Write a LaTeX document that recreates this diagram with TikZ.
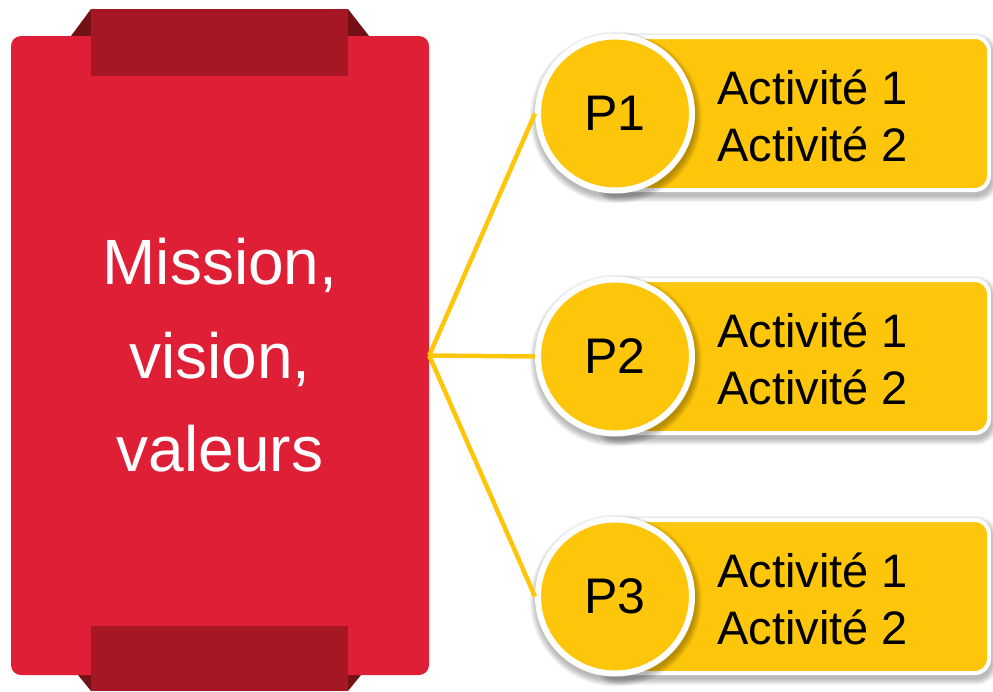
\documentclass[tikz,border=0pt]{standalone}
\usepackage{fontspec}
\setmainfont{Liberation Sans}
\definecolor{mred}{HTML}{DF1F35}
\definecolor{mband}{HTML}{A61725}
\definecolor{mdark}{HTML}{741117}
\definecolor{myel}{HTML}{FEC60B}
\begin{document}
\begin{tikzpicture}[x=1pt,y=-1pt,
  redbox/.style={rectangle, rounded corners=10pt, fill=mred, minimum width=418pt, minimum height=639pt, inner sep=0pt, text=white, align=center, font=\fontsize{64}{93.5}\selectfont},
  bandshape/.style={fill=mband},
  foldshape/.style={fill=mdark},
  softshade/.style={fill=black, opacity=0.045},
  bar/.style={rectangle, rounded corners=14pt, fill=myel, draw=white, line width=4pt, minimum width=389pt, minimum height=153pt, inner sep=0pt},
  pcirc/.style={circle, fill=myel, draw=white, line width=6pt, minimum size=154pt, inner sep=0pt, font=\fontsize{50}{57}\selectfont},
  act/.style={anchor=base west, inner sep=0pt, font=\fontsize{47}{57}\selectfont},
  link/.style={draw=myel, line width=4.5pt}
]
\useasboundingbox (0,0) rectangle (993,691);
% folds behind the box
\fill[foldshape] (71,36) -- (91,9) -- (91,36) -- cycle;
\fill[foldshape] (348,9) -- (369,36) -- (348,36) -- cycle;
\fill[foldshape] (78,675) -- (91,675) -- (91,691) -- cycle;
\fill[foldshape] (348,675) -- (361,675) -- (348,691) -- cycle;
% main box
\node[redbox] (mission) at (220,355.5) {Mission,\\vision,\\valeurs};
% bands
\fill[bandshape] (91,9) rectangle (348,76);
\fill[bandshape] (91,626) rectangle (348,691);
% rows
\foreach \i/\y in {1/113.5,2/356.5,3/596.5}{
  \foreach \k in {0,1,...,6}{
    \fill[softshade, rounded corners=16pt+\k pt] (600-\k,\y-77.5-\k+3) rectangle (992+\k,\y+78.5+\k+4);
  }
  \node[bar] (b\i) at (794.5,\y) {};
  \foreach \k in {0,1,...,6}{
    \fill[softshade] (616,\y+4) circle (80+\k);
  }
  \node[pcirc] (p\i) at (615,\y) {P\i};
  \node[act] (a\i x) at (717,\y-9.5) {Activité 1};
  \node[act] (a\i y) at (717,\y+47.5) {Activité 2};
  \draw[link] (mission.east) -- (p\i.west);
}
\end{tikzpicture}
\end{document}
